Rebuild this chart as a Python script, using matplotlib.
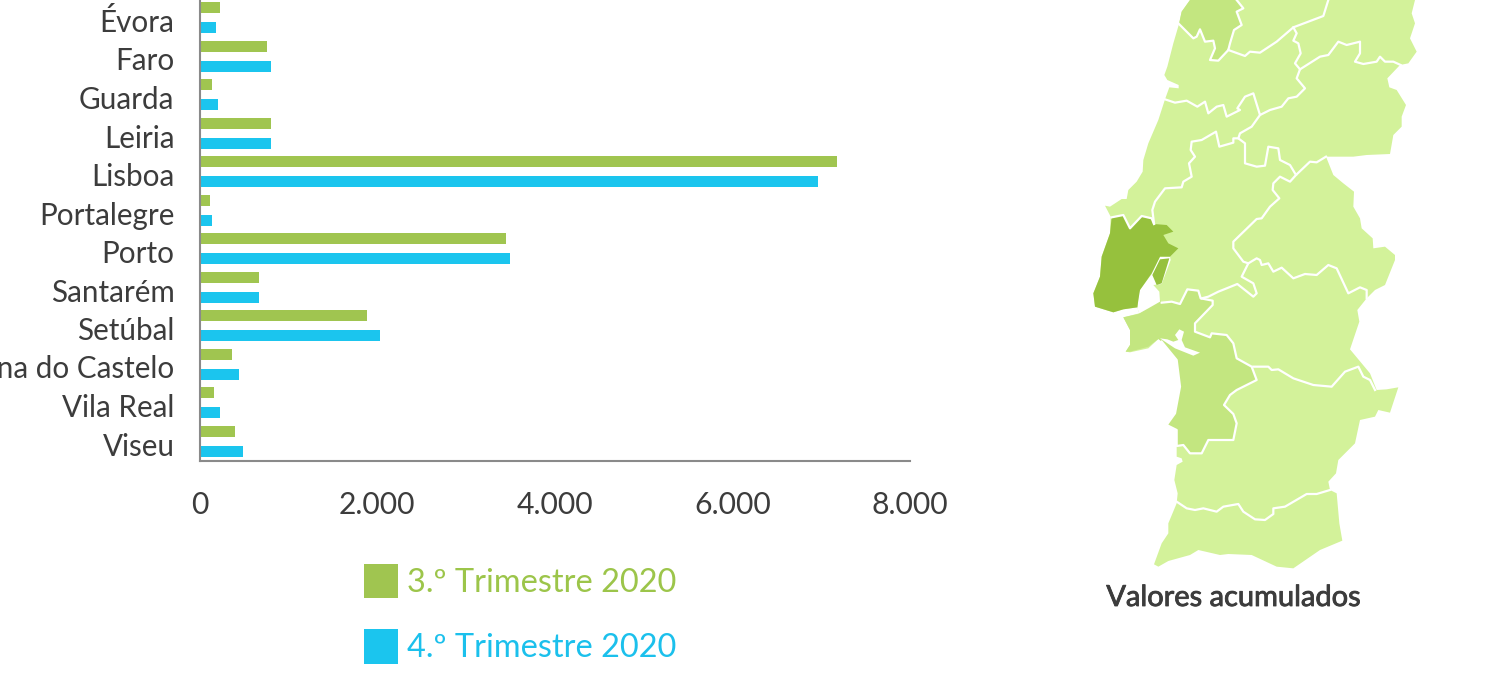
#!/usr/bin/env python3
# -*- coding: utf-8 -*-
import numpy as np
import matplotlib
matplotlib.use('Agg')
import matplotlib.pyplot as plt
import matplotlib.patheffects as pe
from matplotlib.patches import Polygon

#______________________________DATA____________________________________________
districts = ['Évora', 'Faro', 'Guarda', 'Leiria', 'Lisboa', 'Portalegre', 'Porto',
             'Santarém', 'Setúbal', 'Viana do Castelo', 'Vila Real', 'Viseu']
q3_2020 = [230, 760, 140, 805, 7180, 120, 3450, 670, 1890, 365, 165, 400]
q4_2020 = [185, 805, 205, 805, 6960, 140, 3500, 670, 2035, 445, 230, 490]
x_ticks = [0, 2000, 4000, 6000, 8000]
x_tick_labels = ['0', '2.000', '4.000', '6.000', '8.000']
series_labels = ['3.º Trimestre 2020', '4.º Trimestre 2020']

# map shapes, traced at 3x from the picture (see to_px)
silhouette = [(330,-10),(330,0),(305,35),(297,72),(280,130),(262,200),(253,225),(262,240),(296,255),(296,265),
    (268,262),(255,298),(235,360),(205,430),(190,480),(188,515),(170,545),(145,570),(140,597),(125,597),
    (90,620),(75,617),(92,650),(90,700),(65,770),(60,830),(40,880),(45,920),(100,937),(130,928),(172,922),
    (178,940),(130,952),(150,990),(150,1035),(137,1055),(150,1057),(205,1045),(235,1017),(260,1025),
    (290,1080),(300,1160),(285,1240),(260,1275),(290,1290),(290,1370),(305,1375),(308,1385),(290,1395),
    (283,1440),(293,1480),(290,1510),(265,1570),(265,1600),(245,1630),(222,1693),(235,1700),(265,1683),
    (330,1665),(355,1650),(420,1665),(445,1662),(515,1665),(590,1700),(640,1705),(720,1650),(787,1622),
    (778,1570),(770,1480),(750,1470),(745,1445),(768,1420),(775,1380),(825,1330),(840,1260),(885,1250),
    (895,1230),(930,1238),(955,1162),(920,1168),(890,1170),(870,1120),(810,1048),(838,965),(832,930),
    (860,895),(885,870),(915,855),(945,780),(945,765),(915,740),(880,745),(878,715),(845,685),(840,655),
    (820,620),(822,575),(790,550),(760,525),(738,470),(820,470),(860,465),(930,462),(940,405),(965,380),
    (965,350),(978,315),(950,270),(928,262),(922,235),(960,195),(985,190),(1010,155),(990,115),(1005,70),
    (995,40),(1005,0),(1005,-10)]
lisboa = [(95,652),(130,645),(150,685),(185,648),(215,655),(222,672),(260,675),(280,695),(250,705),(265,730),
    (295,745),(270,770),(240,770),(215,820),(180,870),(175,900),(172,922),(130,928),(100,937),(45,920),
    (40,880),(60,830),(65,770),(90,700)]
lisboa_bit = [(240,778),(268,775),(245,850),(230,855),(217,825)]
tagus = [(270,770),(240,770),(215,822),(178,872),(172,925),(178,940),(205,925),(240,905),(238,875),(220,855),
    (245,852),(272,780)]
sado = [(240,1015),(285,1045),(340,1067),(360,1058),(315,1042),(305,1020),(312,995),(298,988),(285,1005),
    (295,1020),(280,1025),(262,1018)]
setubal = [(130,952),(175,942),(240,900),(245,908),(275,905),(300,912),(322,868),(355,872),(362,895),(398,902),
    (398,915),(345,970),(345,995),(390,1012),(395,1000),(440,1005),(460,1030),(470,1075),(515,1100),(530,1140),
    (470,1170),(450,1185),(432,1215),(460,1242),(470,1270),(460,1320),(385,1320),(365,1360),(330,1360),
    (310,1335),(290,1338),(290,1290),(260,1275),(285,1240),(300,1160),(290,1080),(245,1025),(235,1017),
    (205,1040),(150,1055),(137,1055),(150,1035),(150,990)]
setubal_north = [(330,-10),(330,0),(305,35),(297,72),(340,115),(350,110),(360,88),(375,125),(400,122),(405,145),
    (390,180),(415,182),(445,150),(450,130),(462,90),(485,75),(470,35),(490,25),(470,0),(470,-10)]
borders = [
    [(445,150),(495,168),(510,155),(540,158),(590,125),(640,82),(685,65),(730,48),(745,0)],
    [(640,82),(650,100),(640,122),(655,130),(662,160),(645,190),(660,208),(720,170),(745,165),(775,125),(800,135),
     (840,125),(840,160),(825,185),(850,192),(890,185),(900,170),(915,185),(940,185),(962,195)],
    [(660,208),(650,235),(675,265),(650,290),(625,295),(605,320),(570,330),(540,345),(520,280),(495,290),(472,325),
     (480,330),(440,350),(430,315),(410,320),(385,340),(375,305),(352,320),(320,302),(285,308),(255,298)],
    [(540,345),(515,380),(480,400),(475,415),(495,430),(495,490),(530,500),(555,497),(565,440),(595,445),(600,480),
     (630,495),(648,525),(690,485),(710,487),(738,470)],
    [(475,415),(460,415),(460,428),(418,440),(408,395),(365,420),(335,425),(332,450),(345,470),(327,490),(335,530),
     (310,545),(305,562),(255,565),(225,605),(217,630),(222,670)],
    [(648,525),(630,545),(600,530),(580,550),(578,570),(598,595),(570,620),(545,655),(530,657),(460,725),(460,745),
     (490,785),(505,790),(485,830),(520,850),(530,880),(520,890),(472,852),(440,865),(415,875),(385,890),(365,895)],
    [(505,790),(530,775),(540,780),(545,795),(565,790),(580,815),(605,803),(640,835),(675,822),(710,825),(745,795),
     (770,805),(805,880),(840,862),(860,870),(860,895)],
    [(520,1100),(565,1100),(575,1110),(595,1108),(640,1135),(700,1155),(755,1160),(795,1115),(835,1100),(850,1130),
     (870,1140),(885,1170)],
    [(290,1505),(320,1525),(345,1530),(370,1525),(410,1535),(430,1520),(475,1512),(490,1535),(525,1558),(555,1560),
     (580,1542),(580,1525),(615,1520),(680,1482),(710,1482),(750,1470)],
]

LIGHT = '#D3F29A'
MID = '#C3E680'
DARK = '#96C13D'
GREEN = '#A0C550'
BLUE = '#1BC5EE'
TEXT = '#3C3C3C'
AXIS = '#8A8A8A'
plt.rcParams['font.family'] = ['Lato', 'DejaVu Sans']


#______________________________FUNCTIONS_______________________________________
def to_px(points):
    return [(1080 + x / 3, y / 3) for x, y in points]


def draw_map(ax):
    ax.add_patch(Polygon(to_px(silhouette), closed=True, fc=LIGHT, ec='none'))
    ax.add_patch(Polygon(to_px(setubal_north), closed=True, fc=MID, ec='none'))
    ax.add_patch(Polygon(to_px(setubal), closed=True, fc=MID, ec='none'))
    ax.add_patch(Polygon(to_px(tagus), closed=True, fc='white', ec='none'))
    ax.add_patch(Polygon(to_px(sado), closed=True, fc='white', ec='none'))
    ax.add_patch(Polygon(to_px(lisboa), closed=True, fc=DARK, ec='none'))
    ax.add_patch(Polygon(to_px(lisboa_bit), closed=True, fc=DARK, ec='none'))
    for line in borders + [setubal_north[3:-1], lisboa[:6], setubal[3:37]]:
        xy = np.array(to_px(line))
        ax.plot(xy[:, 0], xy[:, 1], color='white', lw=1.6, solid_joinstyle='round')


#______________________________WORKFLOW________________________________________
W, H = 1488, 679
fig = plt.figure(figsize=(W / 100, H / 100), dpi=100, facecolor='white')

# overlay in pixel units for the map
ax_map = fig.add_axes([0, 0, 1, 1])
ax_map.set_xlim(0, W)
ax_map.set_ylim(H, 0)
ax_map.axis('off')
draw_map(ax_map)
caption = ax_map.text(1233.5, 598, 'Valores acumulados', ha='center', va='center', fontsize=20.9,
                      color=TEXT)
caption.set_path_effects([pe.withStroke(linewidth=0.6, foreground=TEXT)])

# bars: axes runs from the top edge down to the axis line at y=461
left, right, bottom = 199.5, 910, 461
ax = fig.add_axes([left / W, 1 - bottom / H, (right - left) / W, bottom / H])
ax.patch.set_alpha(0)
pos = np.arange(len(districts))
step = 38.5
first_row = 20.5
ax.set_ylim((bottom - first_row) / step, -first_row / step)
ax.set_xlim(0, 8000)
b3 = ax.barh(pos - 0.33, q3_2020, height=0.29, color=GREEN, label=series_labels[0])
b4 = ax.barh(pos + 0.19, q4_2020, height=0.29, color=BLUE, label=series_labels[1])

ax.set_yticks(pos)
ax.set_yticklabels(districts, fontsize=21.3, color=TEXT)
ax.set_xticks(x_ticks)
ax.set_xticklabels(x_tick_labels, fontsize=21.7, color=TEXT)
ax.tick_params(axis='y', length=0, pad=18)
ax.tick_params(axis='x', length=0, pad=21.5)
for side in ['top', 'right']:
    ax.spines[side].set_visible(False)
for side in ['left', 'bottom']:
    ax.spines[side].set_color(AXIS)
    ax.spines[side].set_linewidth(1.5)

leg = ax.legend(handles=[b3, b4], labels=series_labels, loc='upper left',
                bbox_to_anchor=(364 / W, 1 - 564 / H), bbox_transform=fig.transFigure,
                frameon=False, fontsize=23.4, handlelength=1.05, handleheight=1.25,
                labelspacing=0.95, handletextpad=0.27, borderpad=0, borderaxespad=0,
                labelcolor=['#9CC54A', '#1BC0EC'])

fig.savefig('out.png', dpi=100)
